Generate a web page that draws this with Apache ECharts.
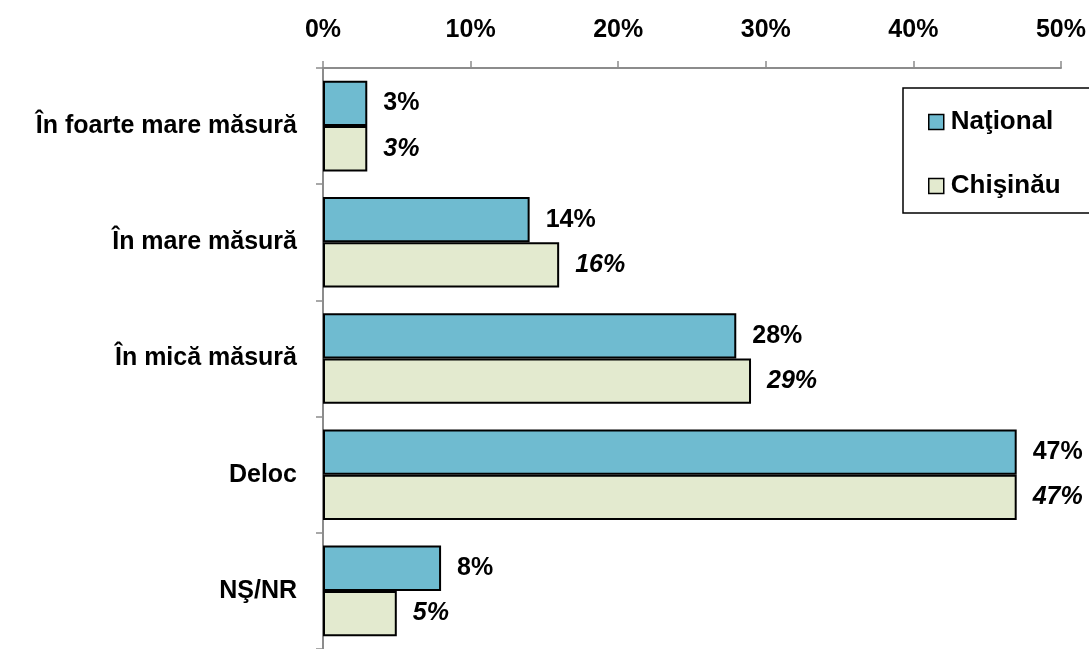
<!DOCTYPE html>
<html>
<head>
<meta charset="utf-8">
<script src="https://cdn.jsdelivr.net/npm/echarts@6/dist/echarts.min.js"></script>
<style>
  html, body { margin: 0; padding: 0; background: #fff; }
  #chart { width: 1089px; height: 649px; }
</style>
</head>
<body>
<div id="chart"></div>
<script>
// Answer categories, top to bottom
const categories = ['În foarte mare măsură', 'În mare măsură', 'În mică măsură', 'Deloc', 'NŞ/NR'];
// Share of respondents, %
const nationalValues = [3, 14, 28, 47, 8];
const chisinauValues = [3, 16, 29, 47, 5];
const seriesNames = ['Naţional', 'Chişinău'];
// Value axis range and step, %
const axisMin = 0;
const axisMax = 50;
const axisStep = 10;

const FONT = '"Liberation Sans", Arial, sans-serif';
const AXIS_GREY = '#8c8c8c';

const chart = echarts.init(document.getElementById('chart'), null, { renderer: 'canvas' });

const barLabel = (italic) => ({
  show: true,
  position: 'right',
  distance: 16,
  formatter: '{c}%',
  color: '#000',
  fontFamily: FONT,
  fontWeight: 'bold',
  fontStyle: italic ? 'italic' : 'normal',
  fontSize: 25
});

chart.setOption({
  animation: false,
  backgroundColor: '#fff',
  grid: { left: 323, right: 27, top: 68, height: 582, containLabel: false },
  xAxis: {
    type: 'value',
    position: 'top',
    min: axisMin,
    max: axisMax,
    interval: axisStep,
    axisLine: { show: true, lineStyle: { color: AXIS_GREY, width: 2 } },
    axisTick: { show: true, length: 7, lineStyle: { color: AXIS_GREY, width: 1.5 } },
    splitLine: { show: false },
    axisLabel: {
      formatter: '{value}%',
      margin: 25,
      color: '#000',
      fontFamily: FONT,
      fontWeight: 'bold',
      fontSize: 25
    }
  },
  yAxis: {
    type: 'category',
    inverse: true,
    data: categories,
    axisLine: { show: true, lineStyle: { color: AXIS_GREY, width: 2 } },
    axisTick: { show: true, length: 7, alignWithLabel: false, lineStyle: { color: AXIS_GREY, width: 1.5 } },
    axisLabel: {
      margin: 26,
      color: '#000',
      fontFamily: FONT,
      fontWeight: 'bold',
      fontSize: 25
    }
  },
  legend: {
    orient: 'vertical',
    left: 903,
    top: 88,
    padding: [21, 60, 14, 25],
    itemGap: 38,
    itemWidth: 15,
    itemHeight: 15,
    borderColor: '#000',
    borderWidth: 1.5,
    icon: 'rect',
    itemStyle: { borderColor: '#000', borderWidth: 1.5 },
    textStyle: {
      color: '#000',
      fontFamily: FONT,
      fontWeight: 'bold',
      fontSize: 26,
      lineHeight: 26,
      padding: [0, 0, 0, 2]
    },
    data: seriesNames
  },
  series: [
    {
      name: seriesNames[0],
      type: 'bar',
      data: nationalValues,
      barGap: '0%',
      barCategoryGap: '22%',
      itemStyle: { color: '#6fbbd0', borderColor: '#000', borderWidth: 2 },
      label: barLabel(false)
    },
    {
      name: seriesNames[1],
      type: 'bar',
      data: chisinauValues,
      barGap: '0%',
      barCategoryGap: '22%',
      itemStyle: { color: '#e3eacf', borderColor: '#000', borderWidth: 2 },
      label: barLabel(true)
    }
  ]
});
</script>
</body>
</html>
